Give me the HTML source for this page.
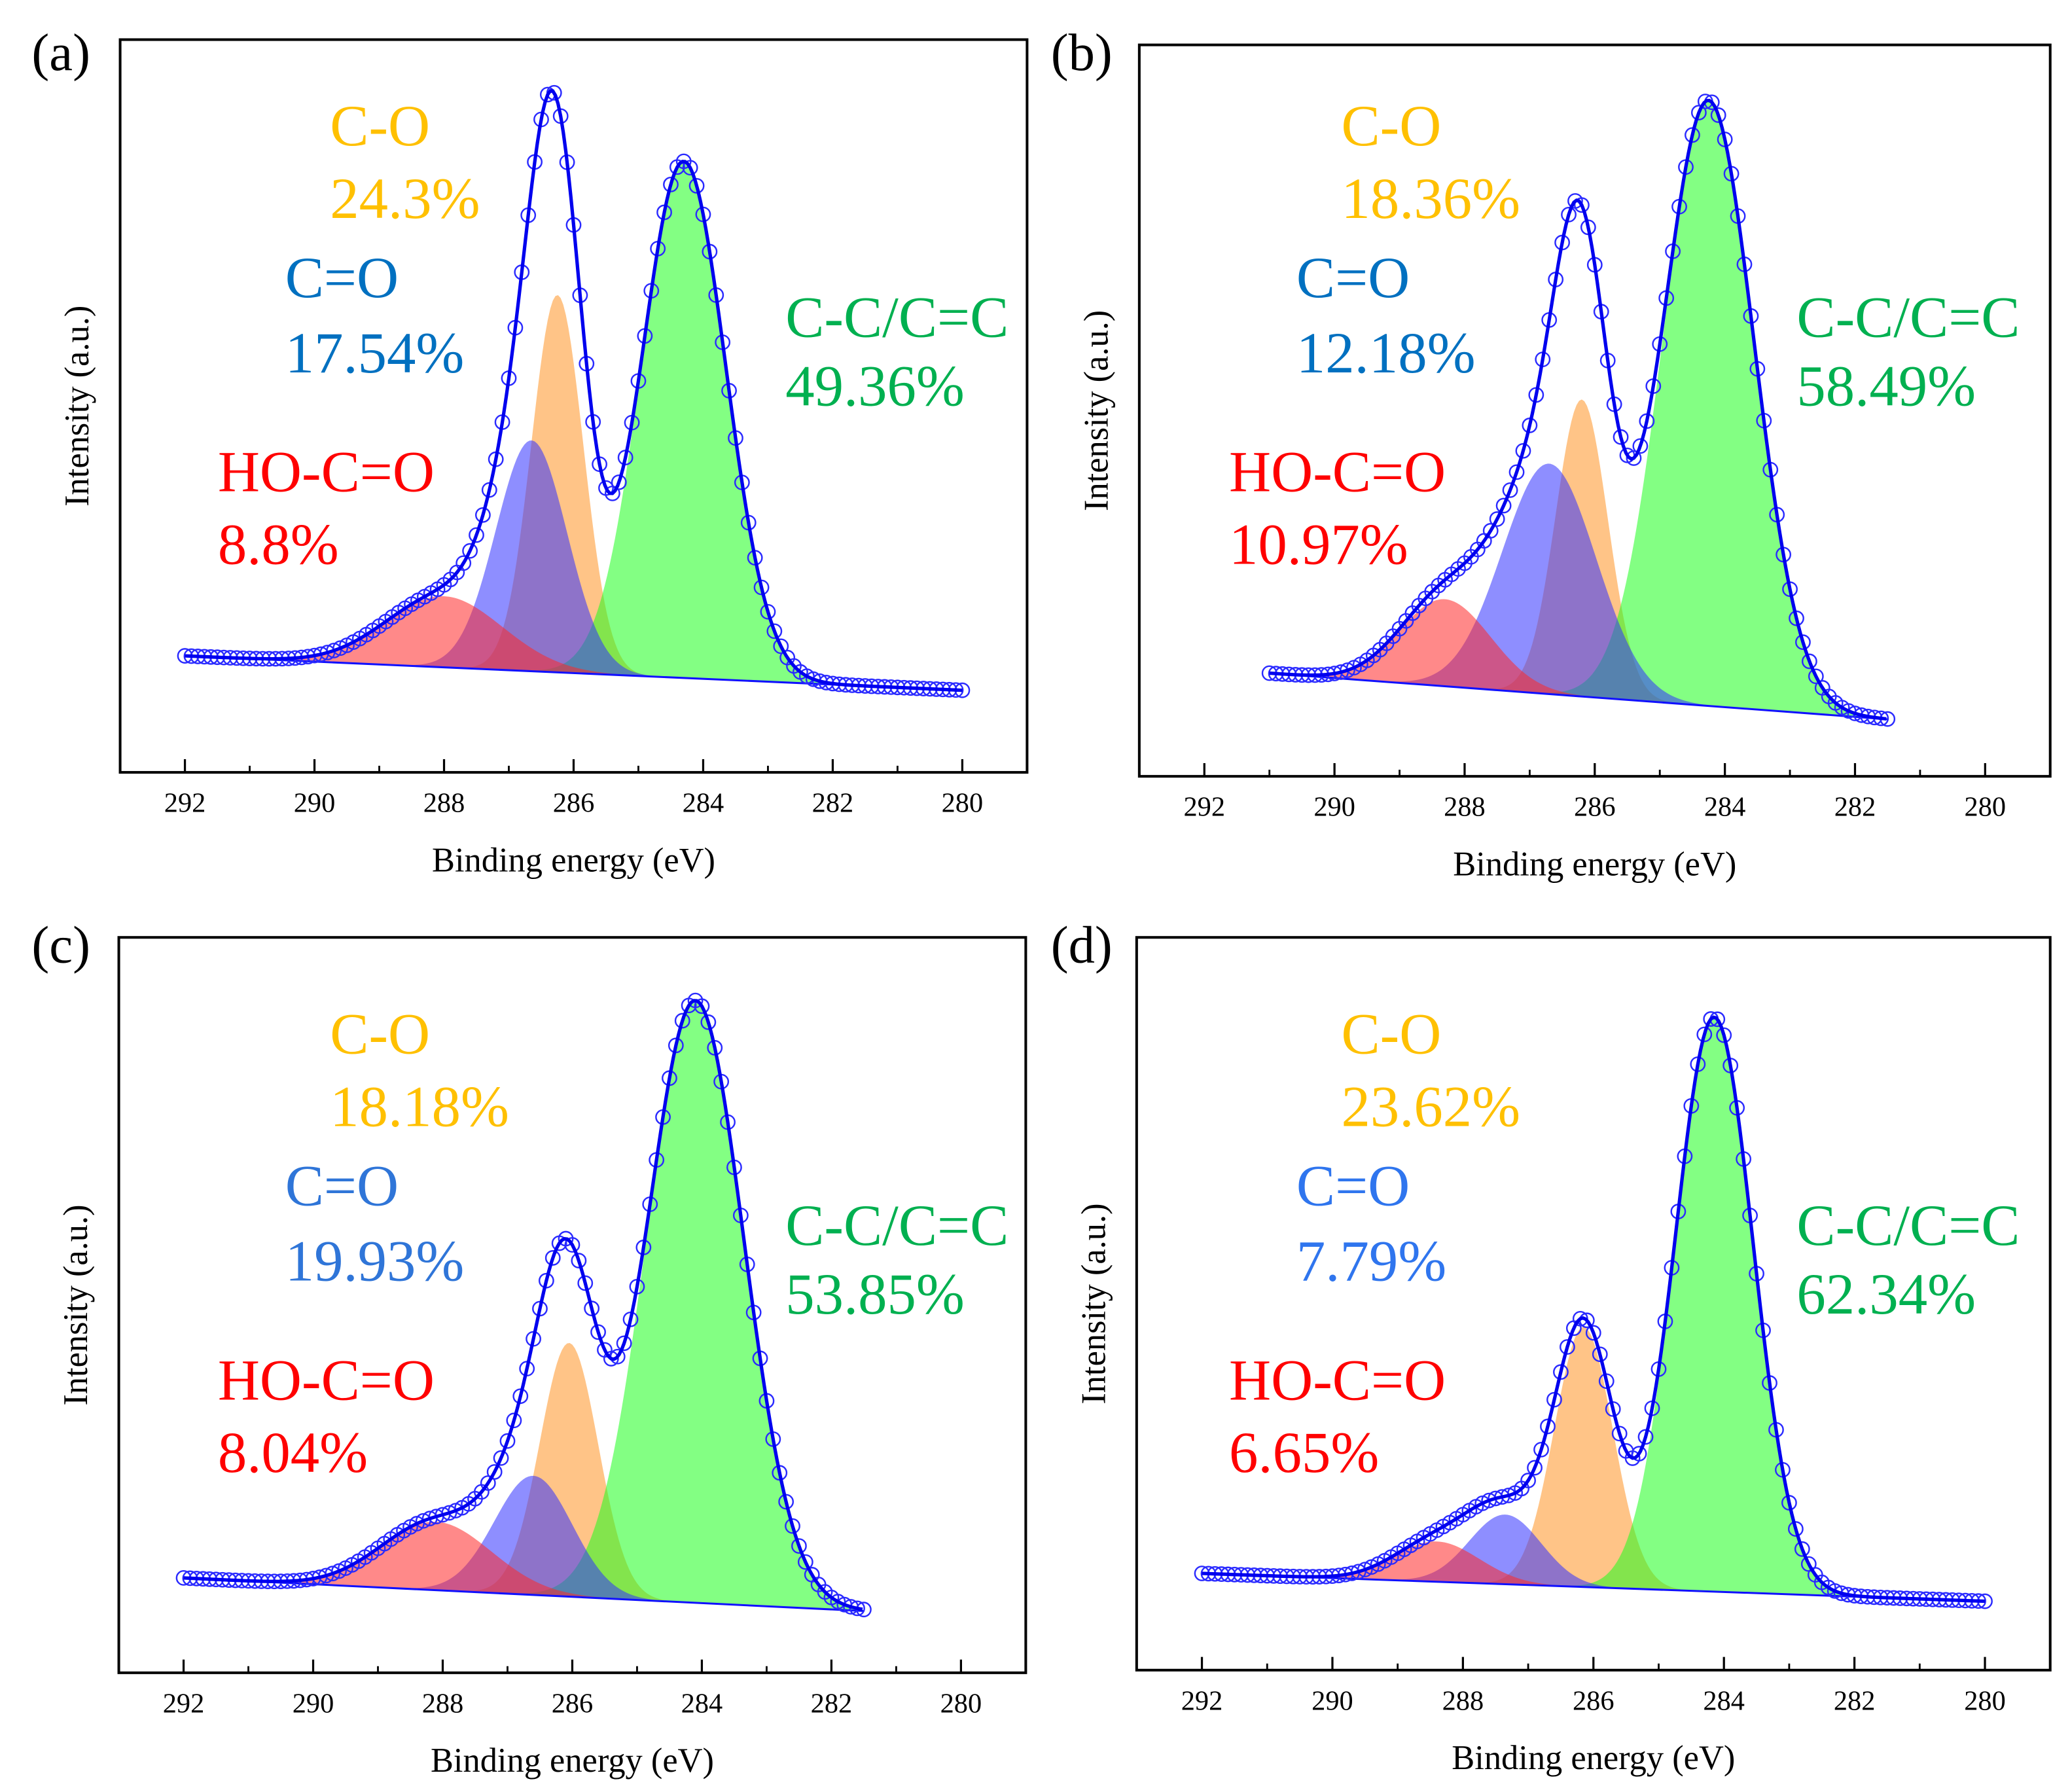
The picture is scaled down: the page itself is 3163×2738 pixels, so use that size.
<!DOCTYPE html>
<html><head><meta charset="utf-8"><style>
html,body{margin:0;padding:0;background:#fff;}
svg{display:block;}
text{font-family:"Liberation Serif",serif;}
</style></head>
<body>
<svg id="fig" width="3163" height="2738" viewBox="0 0 1568 1357.3" xmlns="http://www.w3.org/2000/svg"></svg>
<script>
// ---- data (energies in eV, intensities in % of panel height) ----
const panelIds = ['a','b','c','d'];
const compNames = ['HO-C=O','C=O','C-O','C-C/C=C'];
// component peak centers (eV): red, blue, orange, green
const centersA = [288.0, 286.65, 286.25, 284.3];
const centersB = [288.3, 286.7, 286.2, 284.25];
const centersC = [288.1, 286.6, 286.05, 284.1];
const centersD = [288.4, 287.35, 286.15, 284.15];
// component peak heights above baseline
const heightsA = [9.7, 31.5, 51.5, 70.5];
const heightsB = [11.9, 31.5, 40.6, 82.7];
const heightsC = [9.3, 16.2, 34.5, 81.9];
const heightsD = [5.5, 9.5, 35.5, 78.4];
// component widths (sigma, eV)
const sigmasA = [0.9, 0.55, 0.4, 0.65];
const sigmasB = [0.7, 0.72, 0.4, 0.7];
const sigmasC = [0.85, 0.6, 0.45, 0.75];
const sigmasD = [0.65, 0.55, 0.45, 0.6];
// baseline value at start / end of data range
const baselineA = [15.9, 11.2];
const baselineB = [14.1, 7.8];
const baselineC = [12.9, 8.4];
const baselineD = [13.2, 9.4];
// measured energy range (start, end)
const rangeA = [292, 280];
const rangeB = [291, 281.5];
const rangeC = [292, 281.5];
const rangeD = [292, 280];
// percentages
const pctA = ['8.8%','17.54%','24.3%','49.36%'];
const pctB = ['10.97%','12.18%','18.36%','58.49%'];
const pctC = ['8.04%','19.93%','18.18%','53.85%'];
const pctD = ['6.65%','7.79%','23.62%','62.34%'];
const xTicks = [292,290,288,286,284,282,280];
const xMinorTicks = [291,289,287,285,283,281];

// ---- layout ----
const NS='http://www.w3.org/2000/svg';
const svg=document.getElementById('fig');
const boxes={a:[91,30,778,585],b:[863,34,1553,588],c:[90,710,777,1267],d:[861,710,1553,1265]};
const labelPos={a:[24,53],b:[796,53],c:[24,729],d:[796,729]};
const annoOff={a:[0,0],b:[766,0],c:[0,688],d:[766,688]};
const textColors={a:['#ff0000','#0070c0','#ffc000','#00b050'],b:['#ff0000','#0070c0','#ffc000','#00b050'],c:['#ff0000','#2f75d8','#ffc000','#00b050'],d:['#ff0000','#2f75ee','#ffc000','#00b050']};
const fills=['rgba(255,40,40,0.55)','rgba(50,50,255,0.55)','rgba(255,165,70,0.65)','rgba(30,255,30,0.55)'];
const drawOrder=[2,3,1,0];
const allData={
 a:[centersA,heightsA,sigmasA,baselineA,rangeA,pctA],
 b:[centersB,heightsB,sigmasB,baselineB,rangeB,pctB],
 c:[centersC,heightsC,sigmasC,baselineC,rangeC,pctC],
 d:[centersD,heightsD,sigmasD,baselineD,rangeD,pctD]};

function mk(tag,attrs,parent){const e=document.createElementNS(NS,tag);for(const k in attrs)e.setAttribute(k,attrs[k]);(parent||svg).appendChild(e);return e;}

panelIds.forEach(id=>{
 const [x0,y0,x1,y1]=boxes[id];
 const [cen,hei,sig,bl,rng,pct]=allData[id];
 const g=mk('g',{});
 
 
 const xs=e=>x0+(293-e)/14*(x1-x0);
 const ys=v=>y1-v/100*(y1-y0);
 const base=e=>bl[0]+(bl[1]-bl[0])*(rng[0]-e)/(rng[0]-rng[1]);
 const comp=(i,e)=>hei[i]*Math.exp(-Math.pow(e-cen[i],2)/(2*sig[i]*sig[i]));
 const es=[];for(let e=rng[0];e>=rng[1]-1e-9;e-=0.04)es.push(e);
 drawOrder.forEach(i=>{
  let d='';
  es.forEach((e,k)=>{d+=(k?'L':'M')+xs(e).toFixed(2)+' '+ys(base(e)+comp(i,e)).toFixed(2);});
  for(let k=es.length-1;k>=0;k--)d+='L'+xs(es[k]).toFixed(2)+' '+ys(base(es[k])).toFixed(2);
  const p=mk('path',{d:d+'Z',fill:fills[i],stroke:'none'},g);
  
  
 });
 const bline=mk('line',{x1:xs(rng[0]),y1:ys(bl[0]),x2:xs(rng[1]),y2:ys(bl[1]),stroke:'#1010ff','stroke-width':1.5},g);
 
 
 const total=e=>base(e)+comp(0,e)+comp(1,e)+comp(2,e)+comp(3,e);
 for(let e=rng[0];e>=rng[1]-1e-9;e-=0.1){
  const c=mk('circle',{cx:xs(e).toFixed(2),cy:ys(total(e)).toFixed(2),r:5.3,fill:'none',stroke:'#2a2aff','stroke-width':1.2},g);
  
  
 }
 let d='';es.forEach((e,k)=>{d+=(k?'L':'M')+xs(e).toFixed(2)+' '+ys(total(e)).toFixed(2);});
 const env=mk('path',{d:d,fill:'none',stroke:'#0000ee','stroke-width':2.6},g);
 
 
 const fr=mk('rect',{x:x0,y:y0,width:x1-x0,height:y1-y0,fill:'none',stroke:'#000','stroke-width':2},g);
 
 
 xTicks.forEach(t=>{
  const l=mk('line',{x1:xs(t),x2:xs(t),y1:y1,y2:y1-10,stroke:'#000','stroke-width':1.6},g);
  
  
  const tx=mk('text',{x:xs(t),y:y1+30,'font-size':21,'text-anchor':'middle',fill:'#000'},g);
  tx.textContent=t;
  
  
 });
 xMinorTicks.forEach(t=>{
  const l=mk('line',{x1:xs(t),x2:xs(t),y1:y1,y2:y1-5,stroke:'#000','stroke-width':1.4},g);
  
  
 });
 const xt=mk('text',{x:(x0+x1)/2,y:y1+75,'font-size':26,'text-anchor':'middle',fill:'#000'},g);
 xt.textContent='Binding energy (eV)';
 
 
 const yx=x0-24,yy=(y0+y1)/2;
 const yt=mk('text',{x:yx,y:yy,'font-size':26,'text-anchor':'middle',fill:'#000',transform:`rotate(-90 ${yx} ${yy})`},g);
 yt.textContent='Intensity (a.u.)';
 
 
 const pl=mk('text',{x:labelPos[id][0],y:labelPos[id][1],'font-size':40,fill:'#000'},g);
 pl.textContent='('+id+')';
 
 
 const [ox,oy]=annoOff[id];
 const annos=[[2,0,250,110],[2,1,250,165],[1,0,216,225],[1,1,216,282],[0,0,165,372],[0,1,165,427],[3,0,595,255],[3,1,595,307]];
 annos.forEach(([k,line,ax,ay])=>{
  const t=mk('text',{x:ax+ox,y:ay+oy,'font-size':44,fill:textColors[id][k]},g);
  t.textContent=line===0?compNames[k]:pct[k];
  
  
 });
});
</script>
</body></html>
